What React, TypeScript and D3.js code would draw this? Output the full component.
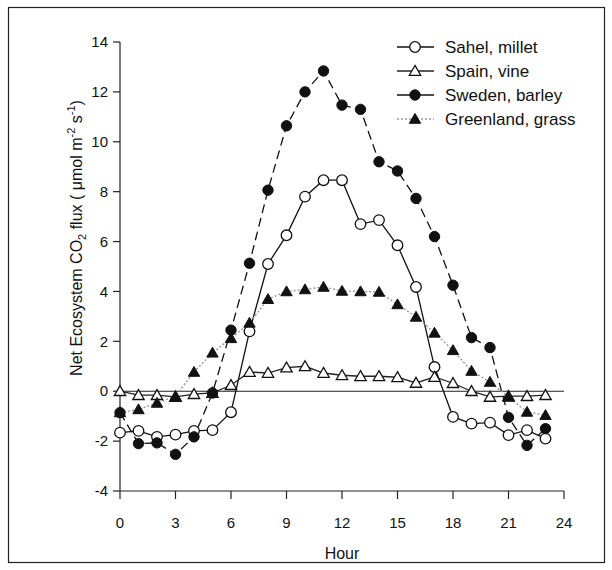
import React from 'react';
import * as d3 from 'd3';

// hourly net ecosystem CO2 flux
const hours = d3.range(0, 24);
const sahelMillet = [-1.66, -1.59, -1.83, -1.74, -1.59, -1.56, -0.84, 2.4, 5.1, 6.25, 7.8, 8.46, 8.46, 6.7, 6.86, 5.85, 4.18, 0.97, -1.03, -1.3, -1.26, -1.76, -1.56, -1.9];
const spainVine = [0, -0.16, -0.16, -0.23, -0.12, -0.07, 0.24, 0.77, 0.73, 0.95, 1.0, 0.73, 0.64, 0.6, 0.6, 0.56, 0.33, 0.57, 0.32, 0, -0.23, -0.2, -0.2, -0.16];
const swedenBarley = [-0.86, -2.1, -2.07, -2.53, -1.83, -0.07, 2.45, 5.13, 8.06, 10.64, 12.0, 12.84, 11.47, 11.3, 9.2, 8.83, 7.73, 6.2, 4.25, 2.15, 1.75, -1.05, -2.17, -1.5];
const greenlandGrass = [-0.85, -0.73, -0.47, -0.2, 0.77, 1.54, 2.12, 2.74, 3.69, 4.0, 4.08, 4.18, 4.02, 4.0, 3.98, 3.48, 2.98, 2.34, 1.64, 0.81, 0.37, -0.23, -0.83, -0.96];

const xTicks = [0, 3, 6, 9, 12, 15, 18, 21, 24];
const yTicks = [-4, -2, 0, 2, 4, 6, 8, 10, 12, 14];

type Marker = 'openCircle' | 'openTriangle' | 'filledCircle' | 'filledTriangle';

interface Series {
  name: string;
  values: number[];
  marker: Marker;
  stroke: string;
  dash: string;
}

const series: Series[] = [
  { name: 'Sahel, millet', values: sahelMillet, marker: 'openCircle', stroke: '#111', dash: '' },
  { name: 'Spain, vine', values: spainVine, marker: 'openTriangle', stroke: '#222', dash: '' },
  { name: 'Sweden, barley', values: swedenBarley, marker: 'filledCircle', stroke: '#111', dash: '9,5' },
  { name: 'Greenland, grass', values: greenlandGrass, marker: 'filledTriangle', stroke: '#999', dash: '2,2' },
];

const FONT = "'Liberation Sans', Arial, Helvetica, sans-serif";

const MarkerShape: React.FC<{ kind: Marker; x: number; y: number }> = ({ kind, x, y }) => {
  const tri = d3.symbol().type(d3.symbolTriangle).size(56)();
  switch (kind) {
    case 'openCircle':
      return <circle cx={x} cy={y} r={5.3} fill="#fff" stroke="#111" strokeWidth={1.3} />;
    case 'filledCircle':
      return <circle cx={x} cy={y} r={5.2} fill="#111" stroke="#111" strokeWidth={1} />;
    case 'openTriangle':
      return <path d={tri || ''} transform={`translate(${x},${y + 1})`} fill="#fff" stroke="#111" strokeWidth={1.3} />;
    default:
      return <path d={tri || ''} transform={`translate(${x},${y + 1})`} fill="#111" stroke="#111" strokeWidth={1} />;
  }
};

const App: React.FC = () => {
  const width = 612;
  const height = 570;

  const x = d3.scaleLinear().domain([0, 24]).range([120, 564]);
  const y = d3.scaleLinear().domain([-4, 14]).range([491, 42]);

  const line = d3.line<number>()
    .x((_, i) => x(hours[i]))
    .y(d => y(d));

  const legendX = 397;
  const legendY = [47, 71, 95, 119];

  return (
    <svg width={width} height={height} style={{ position: 'absolute', left: 0, top: 0, background: '#fff' }}
      fontFamily={FONT}>
      <rect x={8.5} y={7.5} width={596} height={555} fill="none" stroke="#222" strokeWidth={1.2} />

      {/* axes */}
      <line x1={x(0)} x2={x(0)} y1={y(14)} y2={y(-4)} stroke="#222" strokeWidth={1.2} />
      <line x1={x(0)} x2={x(24)} y1={y(-4)} y2={y(-4)} stroke="#222" strokeWidth={1.2} />
      {/* zero reference line */}
      <line x1={x(0)} x2={x(24)} y1={y(0)} y2={y(0)} stroke="#222" strokeWidth={1.1} />

      {yTicks.map(t => (
        <g key={`y${t}`}>
          <line x1={x(0) - 7} x2={x(0)} y1={y(t)} y2={y(t)} stroke="#222" strokeWidth={1.2} />
          <text x={x(0) - 12} y={y(t)} dy="0.35em" textAnchor="end" fontSize={15} fill="#111">{t}</text>
        </g>
      ))}
      {xTicks.map(t => (
        <g key={`x${t}`}>
          <line x1={x(t)} x2={x(t)} y1={y(-4)} y2={y(-4)} stroke="#222" strokeWidth={1.2} />
          <line x1={x(t)} x2={x(t)} y1={y(-4)} y2={y(-4) + 8} stroke="#222" strokeWidth={1.2} />
          <text x={x(t)} y={528} textAnchor="middle" fontSize={15} fill="#111">{t}</text>
        </g>
      ))}

      <text x={(x(0) + x(24)) / 2} y={559} textAnchor="middle" fontSize={16} fill="#111">Hour</text>
      <text transform={`translate(82,238) rotate(-90)`} textAnchor="middle" fontSize={16} fill="#111">
        Net Ecosystem CO<tspan fontSize={11} dy={4}>2</tspan><tspan dy={-4}> flux ( μmol m</tspan>
        <tspan fontSize={11} dy={-7}>-2</tspan><tspan dy={7}> s</tspan>
        <tspan fontSize={11} dy={-7}>-1</tspan><tspan dy={7}>)</tspan>
      </text>

      {/* series lines */}
      {series.map(s => (
        <path key={`l${s.name}`} d={line(s.values) || ''} fill="none" stroke={s.stroke}
          strokeWidth={s.marker === 'filledTriangle' ? 1.4 : 1.3} strokeDasharray={s.dash} />
      ))}
      {/* markers */}
      {series.map(s => (
        <g key={`m${s.name}`}>
          {s.values.map((v, i) => (
            <MarkerShape key={i} kind={s.marker} x={x(hours[i])} y={y(v)} />
          ))}
        </g>
      ))}

      {/* legend */}
      {series.map((s, i) => (
        <g key={`lg${s.name}`}>
          <line x1={legendX} x2={legendX + 37} y1={legendY[i]} y2={legendY[i]} stroke={s.stroke}
            strokeWidth={1.3} strokeDasharray={s.marker === 'filledTriangle' ? '2,2' : ''} />
          <MarkerShape kind={s.marker} x={legendX + 18} y={legendY[i]} />
          <text x={legendX + 48} y={legendY[i]} dy="0.35em" fontSize={17} fill="#111">{s.name}</text>
        </g>
      ))}
    </svg>
  );
};

export default App;
